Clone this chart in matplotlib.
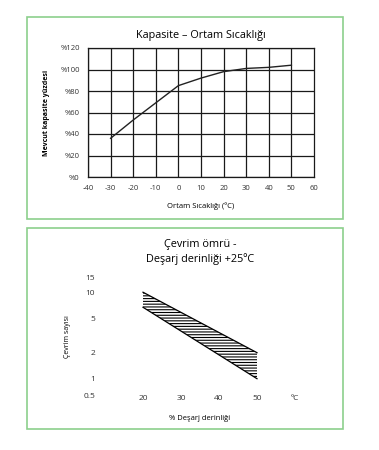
import numpy as np
import matplotlib
matplotlib.use('Agg')
import matplotlib.pyplot as plt
from matplotlib.patches import Rectangle
from matplotlib.ticker import FixedLocator, FixedFormatter

plt.rcParams['font.family'] = ['Open Sans', 'DejaVu Sans']
plt.rcParams['axes.unicode_minus'] = False
plt.rcParams['hatch.color'] = 'black'
plt.rcParams['hatch.linewidth'] = 0.8

# kapasite - ortam sicakligi
temp = [-30, -20, -10, 0, 10, 20, 30, 40, 50]
capacity = [36, 53, 69, 85, 92, 98, 101, 102, 104]
temp_ticks = [-40, -30, -20, -10, 0, 10, 20, 30, 40, 50, 60]
cap_ticks = [0, 20, 40, 60, 80, 100, 120]
cap_labels = ['%0', '%20', '%40', '%60', '%80', '%100', '%120']

# cevrim omru - desarj derinligi
dod = [20, 50]
cycles_upper = [10, 2]
cycles_lower = [6.7, 1]
dod_ticks = [20, 30, 40, 50]
cycle_ticks = [1, 2, 5, 10, 15]

W, H = 379, 450
fig = plt.figure(figsize=(W / 100, H / 100), dpi=100)


def fx(px):
    return px / W


def fy(py):
    return 1 - py / H


# green frames
for top, bot in [(17, 219), (228, 429)]:
    fig.patches.append(Rectangle((fx(27), fy(bot)), fx(343) - fx(27), fy(top) - fy(bot),
                                 transform=fig.transFigure, fill=False,
                                 edgecolor='#8ccf8c', linewidth=1.2))

# ---- top chart
ax1 = fig.add_axes([fx(88), fy(177), fx(314) - fx(88), fy(48) - fy(177)])
ax1.plot(temp, capacity, color='#222222', lw=1.0)
ax1.set_xlim(-40, 60)
ax1.set_ylim(0, 120)
ax1.set_xticks(temp_ticks)
ax1.set_yticks(cap_ticks)
ax1.set_yticklabels(cap_labels)
for t in cap_ticks:
    ax1.axhline(t, color='#1a1a1a', lw=0.9, zorder=0)
for t in temp_ticks[:-1]:
    ax1.axvline(t, color='#1a1a1a', lw=0.9, zorder=0)
for s in ax1.spines.values():
    s.set_color('#1a1a1a')
    s.set_linewidth(0.9)
ax1.tick_params(length=0, labelsize=5.5, labelcolor='#333333', pad=6)
ax1.set_title('Kapasite – Ortam Sıcaklığı', fontsize=7.8, pad=7)
ax1.set_xlabel('Ortam Sıcaklığı (ºC)', fontsize=5.5, labelpad=7)
ax1.set_ylabel('Mevcut kapasite yüzdesi', fontsize=5, fontweight='bold', labelpad=7)

# ---- bottom chart
ax2 = fig.add_axes([fx(105), fy(396), fx(295) - fx(105), fy(277) - fy(396)])
ax2.set_yscale('log')
ax2.fill_between(dod, cycles_lower, cycles_upper, facecolor='white', edgecolor='black',
                 hatch='------', linewidth=0)
ax2.plot(dod, cycles_upper, color='black', lw=0.9)
ax2.plot(dod, cycles_lower, color='black', lw=0.9)
ax2.set_xlim(10, 60)
# the source chart prints "0.5" at the axis origin, not at its true log position
y_bottom = 10 ** -0.2
ax2.set_ylim(y_bottom, 15)
ax2.yaxis.set_major_locator(FixedLocator([y_bottom] + cycle_ticks))
ax2.yaxis.set_major_formatter(FixedFormatter(['0.5'] + [str(c) for c in cycle_ticks]))
ax2.yaxis.set_minor_locator(FixedLocator([]))
ax2.set_xticks(dod_ticks + [60])
ax2.set_xticklabels([str(d) for d in dod_ticks] + ['ºC'])
for s in ax2.spines.values():
    s.set_visible(False)
ax2.tick_params(length=0, labelsize=6, labelcolor='#333333')
ax2.tick_params(axis='x', pad=-1)
ax2.tick_params(axis='y', pad=7)
ax2.set_title('Çevrim ömrü -\nDeşarj derinliği +25ºC', fontsize=7.8, pad=11, linespacing=1.3)
ax2.set_xlabel('% Deşarj derinliği', fontsize=5.5, labelpad=10)
ax2.set_ylabel('Çevrim sayısı', fontsize=5, labelpad=9)

fig.savefig('out.png', dpi=100)
